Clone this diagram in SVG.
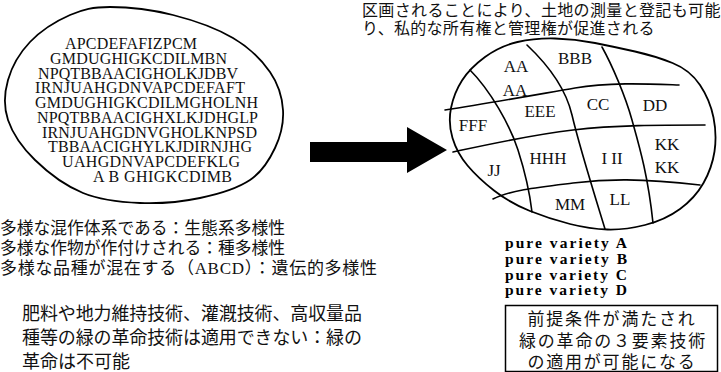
<svg xmlns="http://www.w3.org/2000/svg" width="721" height="372" viewBox="0 0 721 372">
<style>
.ol{fill:none;stroke:#000;stroke-width:1.8;stroke-linecap:round;stroke-linejoin:round}
.ln{fill:none;stroke:#000;stroke-width:1.6;stroke-linecap:round}
.lat{font-family:"Liberation Serif","Times New Roman",serif;font-size:16px;fill:#111}
.lab{font-family:"Liberation Serif","Times New Roman",serif;font-size:17px;fill:#111;text-anchor:middle}
.pv{font-family:"Liberation Serif","Times New Roman",serif;font-size:15.5px;font-weight:bold;fill:#000}
.jp{font-family:"Liberation Serif","Noto Sans CJK JP",serif;fill:#111}
</style>
<rect width="721" height="372" fill="#fff"/>

<g id="caption-top-right">
<text class="jp" x="362" y="16" font-size="16" letter-spacing="0.35">区画されることにより、土地の測量と登記も可能</text>
<text class="jp" x="362" y="34" font-size="16" letter-spacing="0.3">り、私的な所有権と管理権が促進される</text>
</g>

<g id="mixed-field">
<path class="ol" d="M110,7 C127.2,7 152.5,9.8 173,15 C193.5,20.2 216.8,28.5 233,38 C249.2,47.5 261.7,60 270,72 C278.3,84 282.2,97.3 283,110 C283.8,122.7 280.5,136.3 275,148 C269.5,159.7 262.5,171.7 250,180 C237.5,188.3 218.3,194.2 200,198 C181.7,201.8 159.5,203.8 140,203 C120.5,202.2 100.5,200.2 83,193 C65.5,185.8 47.5,172.2 35,160 C22.5,147.8 12.5,133.3 8,120 C3.5,106.7 4.3,93 8,80 C11.7,67 19.7,52.8 30,42 C40.3,31.2 56.7,20.8 70,15 C83.3,9.2 92.8,7 110,7 Z"/>
<text class="lat" x="65" y="49" textLength="132">APCDEFAFIZPCM</text>
<text class="lat" x="50" y="63.8" textLength="177">GMDUGHIGKCDILMBN</text>
<text class="lat" x="38" y="78.6" textLength="200">NPQTBBAACIGHOLKJDBV</text>
<text class="lat" x="35" y="93.3" textLength="210">IRNJUAHGDNVAPCDEFAFT</text>
<text class="lat" x="35" y="108.1" textLength="223">GMDUGHIGKCDILMGHOLNH</text>
<text class="lat" x="37" y="122.9" textLength="221">NPQTBBAACIGHXLKJDHGLP</text>
<text class="lat" x="42" y="137.7" textLength="215">IRNJUAHGDNVGHOLKNPSD</text>
<text class="lat" x="48" y="152.4" textLength="204">TBBAACIGHYLKJDIRNJHG</text>
<text class="lat" x="62" y="167.2" textLength="178">UAHGDNVAPCDEFKLG</text>
<text class="lat" x="93" y="182" textLength="139">A B GHIGKCDIMB</text>
</g>

<g id="diversity-notes">
<text class="jp" x="0" y="234" font-size="17" textLength="285" lengthAdjust="spacingAndGlyphs">多様な混作体系である：生態系多様性</text>
<text class="jp" x="0" y="254" font-size="17" textLength="285" lengthAdjust="spacingAndGlyphs">多様な作物が作付けされる：種多様性</text>
<text class="jp" x="0" y="274" font-size="17" textLength="377" lengthAdjust="spacing">多様な品種が混在する（ABCD）：遺伝的多様性</text>
</g>

<g id="green-revolution-impossible">
<text class="jp" x="22" y="320" font-size="18" textLength="340" lengthAdjust="spacing">肥料や地力維持技術、灌漑技術、高収量品</text>
<text class="jp" x="22" y="344" font-size="18" textLength="340" lengthAdjust="spacing">種等の緑の革命技術は適用できない：緑の</text>
<text class="jp" x="22" y="368" font-size="18">革命は不可能</text>
</g>

<g id="connectors">
<polygon points="310,142 407,142 407,127 447,150 407,173 407,162 310,162" fill="#000"/>
</g>

<g id="divided-field">
<path class="ol" d="M462,80.5 Q470,68 485,57 Q500,46 517.5,42 Q535,38 555,38.5 Q575,39 595,43 Q615,47 635,51.5 Q655,56 672.5,63 Q690,70 700,85 Q710,100 713.5,117.5 Q717,135 714.5,151.5 Q712,168 703.5,183 Q695,198 680,209 Q665,220 645,225 Q625,230 607.5,229.5 Q590,229 570,224 Q550,219 530,211 Q510,203 494,190.5 Q478,178 467.5,165.5 Q457,153 452.5,138 Q448,123 451,108 Q454,93 462,80.5 Z"/>
<path class="ln" d="M445,110 C490,103 540,94 575,88 S650,84 679,85"/>
<path class="ln" d="M453,152 C490,144 530,135 573,130 S660,125 705,125"/>
<path class="ln" d="M493,199 C510,190 540,187 573,183 S640,178 700,185"/>
<path class="ln" d="M470,70 C490,90 510,125 518,150 S530,195 532,212"/>
<path class="ln" d="M527,45 C545,62 565,85 572,115 S590,180 605,229"/>
<path class="ln" d="M602,47 C612,65 625,95 632,120 S648,175 653,223"/>
<text class="lab" x="516" y="72">AA</text>
<text class="lab" x="575" y="64">BBB</text>
<text class="lab" x="515" y="96">AA</text>
<text class="lab" x="540" y="117">EEE</text>
<text class="lab" x="598" y="110">CC</text>
<text class="lab" x="655" y="111">DD</text>
<text class="lab" x="473" y="131">FFF</text>
<text class="lab" x="548" y="164">HHH</text>
<text class="lab" x="612" y="164">I II</text>
<text class="lab" x="667" y="150">KK</text>
<text class="lab" x="667" y="173">KK</text>
<text class="lab" x="494" y="176">JJ</text>
<text class="lab" x="570" y="210">MM</text>
<text class="lab" x="620" y="205">LL</text>
</g>

<g id="pure-varieties">
<text class="pv" x="505" y="248" textLength="122">pure variety A</text>
<text class="pv" x="505" y="264" textLength="122">pure variety B</text>
<text class="pv" x="505" y="279.5" textLength="122">pure variety C</text>
<text class="pv" x="505" y="295" textLength="122">pure variety D</text>
</g>

<g id="conditions-box">
<rect x="505.5" y="305.5" width="212" height="66" fill="none" stroke="#000" stroke-width="1.5"/>
<text class="jp" x="612" y="325" font-size="17" letter-spacing="1.8" text-anchor="middle">前提条件が満たされ</text>
<text class="jp" x="613" y="347" font-size="17" letter-spacing="1.8" text-anchor="middle">緑の革命の３要素技術</text>
<text class="jp" x="612" y="368" font-size="17" letter-spacing="1.8" text-anchor="middle">の適用が可能になる</text>
</g>
</svg>
